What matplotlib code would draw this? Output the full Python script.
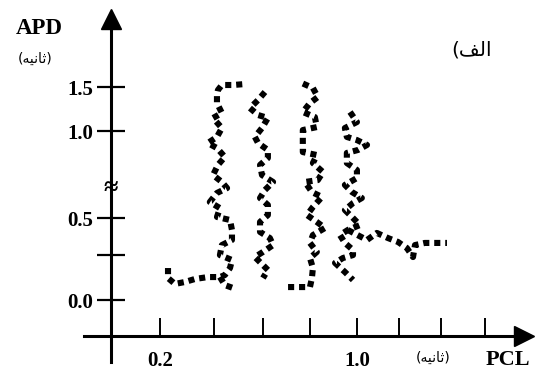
import numpy as np
import matplotlib
matplotlib.use("Agg")
import matplotlib.pyplot as plt

# ---------------- data (PCL in s, APD in s) ----------------
curve1_pcl = [0.232, 0.232, 0.260, 0.301, 0.341, 0.394, 0.443, 0.463, 0.484, 0.492, 0.443, 0.451,
              0.492, 0.492, 0.484, 0.431, 0.443, 0.402, 0.431, 0.472, 0.451, 0.415, 0.435, 0.463,
              0.431, 0.394, 0.431, 0.451, 0.415, 0.451, 0.431, 0.431, 0.435, 0.451, 0.496, 0.545]
curve1_apd = [0.195, 0.134, 0.098, 0.110, 0.128, 0.140, 0.140, 0.152, 0.195, 0.244, 0.274, 0.335,
              0.366, 0.427, 0.488, 0.506, 0.557, 0.592, 0.644, 0.672, 0.707, 0.747, 0.805, 0.851,
              0.902, 0.931, 0.966, 1.034, 1.148, 1.205, 1.318, 1.409, 1.466, 1.523, 1.523, 1.534]
tail1_pcl = [0.443, 0.463, 0.508]
tail1_apd = [0.140, 0.091, 0.067]

curve2_pcl = [0.626, 0.598, 0.565, 0.598, 0.638, 0.614, 0.585, 0.598, 0.638, 0.638, 0.606, 0.614,
              0.659, 0.626, 0.606, 0.638, 0.638, 0.606, 0.606, 0.646, 0.659, 0.618, 0.585, 0.618,
              0.638, 0.618]
curve2_apd = [1.443, 1.352, 1.261, 1.182, 1.148, 1.034, 0.966, 0.931, 0.891, 0.845, 0.805, 0.747,
              0.707, 0.661, 0.615, 0.575, 0.517, 0.476, 0.415, 0.378, 0.335, 0.293, 0.262, 0.213,
              0.183, 0.134]

curve3_pcl = [0.720, 0.760, 0.809, 0.817, 0.821, 0.809, 0.837, 0.809, 0.821, 0.870, 0.837, 0.797,
              0.821, 0.858, 0.817, 0.789, 0.841, 0.862, 0.821, 0.837, 0.780, 0.780, 0.780, 0.837,
              0.829, 0.780, 0.809, 0.841, 0.821, 0.776]
curve3_apd = [0.079, 0.079, 0.079, 0.134, 0.195, 0.256, 0.293, 0.348, 0.396, 0.439, 0.476, 0.517,
              0.563, 0.621, 0.649, 0.707, 0.718, 0.764, 0.816, 0.862, 0.879, 0.937, 1.011, 1.045,
              1.159, 1.216, 1.318, 1.386, 1.489, 1.545]

curve4_pcl = [0.972, 1.000, 0.951, 0.959, 1.000, 1.041, 1.004, 0.959, 0.959, 1.000, 1.000, 0.951,
              0.980, 1.020, 0.984, 0.951, 0.980, 1.012, 0.963, 0.931, 0.951, 0.984, 0.984, 0.943,
              0.911, 0.951, 0.984]
curve4_apd = [1.216, 1.102, 1.034, 0.966, 0.948, 0.920, 0.891, 0.874, 0.816, 0.776, 0.730, 0.690,
              0.649, 0.615, 0.586, 0.546, 0.506, 0.457, 0.427, 0.396, 0.348, 0.305, 0.274, 0.256,
              0.226, 0.171, 0.122]
tail4_pcl = [0.963, 1.041, 1.081, 1.126, 1.167, 1.203, 1.228, 1.236, 1.276, 1.317, 1.366]
tail4_apd = [0.427, 0.366, 0.409, 0.378, 0.354, 0.317, 0.262, 0.335, 0.348, 0.348, 0.348]

x_ticks = [0.2, 0.42, 0.62, 0.81, 1.0, 1.17, 1.34, 1.52]
x_ticklabels = ["0.2", "", "", "", "1.0", "", "", ""]
y_ticks = [0.0, 0.274, 0.5, 1.0, 1.5]
y_ticklabels = ["0.0", "", "0.5", "1.0", "1.5"]

# Persian labels (presentation forms in visual order so they render joined, right-to-left)
unit_label = "(\uFEEA\uFEF4\uFEE7\uFE8E\uFE9B)"   # (ثانیه)
panel_label = "(\uFED2\uFEDF\uFE8D"               # الف)

# ---------------- figure ----------------
plt.rcParams["font.family"] = ["Liberation Serif", "DejaVu Serif"]
plt.rcParams["font.weight"] = "bold"

fig = plt.figure(figsize=(5.37, 3.72), dpi=100)
ax = fig.add_axes([0, 0, 1, 1])
ax.patch.set_alpha(0)

# broken (piecewise) APD axis
apd_knots = [-2.0, 0.0, 0.5, 1.0, 1.5, 4.0]
disp_knots = [-328.0, 0.0, 82.0, 169.0, 213.0, 433.0]
def fwd(y):
    return np.interp(y, apd_knots, disp_knots)
def inv(d):
    return np.interp(d, disp_knots, apd_knots)
ax.set_yscale("function", functions=(fwd, inv))

ax.set_xlim(-0.451, 1.732)
ax.set_ylim(-0.439, 2.489)

style = dict(color="black", lw=4.4, dashes=(1.0, 0.8))
ax.plot(curve1_pcl, curve1_apd, **style)
ax.plot(tail1_pcl, tail1_apd, **style)
ax.plot(curve2_pcl, curve2_apd, **style)
ax.plot(curve3_pcl, curve3_apd, **style)
ax.plot(curve4_pcl, curve4_apd, **style)
ax.plot(tail4_pcl, tail4_apd, **style)

# axes as arrows
for s in ("top", "right"):
    ax.spines[s].set_visible(False)
ax.spines["left"].set_position(("data", 0))
ax.spines["bottom"].set_position(("data", -0.22))
ax.spines["left"].set_bounds(-0.378, 2.2)
ax.spines["bottom"].set_bounds(-0.11, 1.66)
for s in ("left", "bottom"):
    ax.spines[s].set_linewidth(2.2)
ax.plot([0], [2.27], marker="^", ms=14.5, color="black", clip_on=False)
ax.plot([1.679], [-0.22], marker=">", ms=14.5, color="black", clip_on=False)

ax.set_xticks(x_ticks)
ax.set_xticklabels(x_ticklabels)
ax.set_yticks(y_ticks)
ax.set_yticklabels(y_ticklabels)
ax.minorticks_off()
ax.tick_params(axis="x", direction="in", length=13, width=1.4, pad=10.5, labelsize=15)
ax.tick_params(axis="y", direction="inout", length=20, width=1.6, pad=3, labelsize=15)

# axis-break sign
ax.text(0, 0.672, "\u2248", ha="center", va="center", fontsize=19, fontweight="bold")

# axis titles
ax.text(-0.293, 2.165, "APD", ha="center", va="center", fontsize=16.5, fontweight="bold")
ax.text(-0.309, 1.818, unit_label, ha="center", va="center", fontsize=10,
        family=["DejaVu Sans"], fontweight="normal")
ax.text(1.614, -0.366, "PCL", ha="center", va="center", fontsize=16, fontweight="bold")
ax.text(1.309, -0.354, unit_label, ha="center", va="center", fontsize=10,
        family=["DejaVu Sans"], fontweight="normal")
ax.text(1.467, 1.92, panel_label, ha="center", va="center", fontsize=14.5,
        family=["DejaVu Sans"], fontweight="normal")

fig.savefig("out.png", dpi=100)
